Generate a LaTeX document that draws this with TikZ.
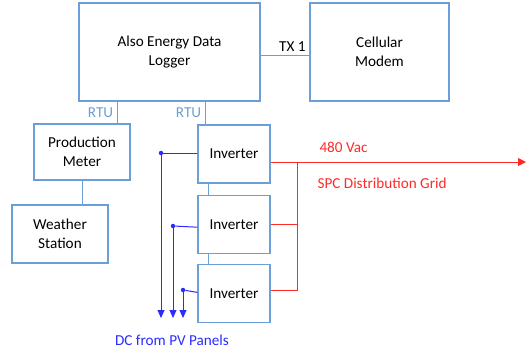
\documentclass[tikz,border=0pt]{standalone}
\usepackage{fontspec}
\setmainfont{Carlito}
\usetikzlibrary{positioning, arrows.meta}
\definecolor{boxblue}{HTML}{6A9FD8}
\definecolor{dcblue}{HTML}{2B2BFF}
\definecolor{acred}{HTML}{FF2A2A}

\begin{document}
\begin{tikzpicture}[x=1pt, y=-1pt,
    every node/.style={font=\fontsize{15.2}{19}\selectfont},
    box/.style={rectangle, draw=boxblue, line width=1.2pt, align=center, inner sep=0pt},
    invbox/.style={box, minimum width=72pt, minimum height=58pt},
    link/.style={draw=boxblue, line width=1pt},
    ac/.style={draw=acred, line width=1pt},
    dc/.style={draw=dcblue, line width=1pt},
    dcarrow/.style={dc, -{Triangle[length=8pt, width=7pt]}},
    dot/.style={circle, fill=dcblue, inner sep=0pt, minimum size=4.5pt}]

  \useasboundingbox (0,0) rectangle (530,348);

  \node[box, minimum width=181pt, minimum height=98pt] (logger) at (169.5,52) {Also Energy Data\\Logger};
  \node[box, minimum width=139pt, minimum height=98pt] (modem) at (379.5,52) {Cellular\\Modem};
  \node[box, minimum width=96pt, minimum height=56pt] (meter) at (82,152) {Production\\Meter};
  \node[box, minimum width=96pt, minimum height=58pt] (weather) at (60,234) {Weather\\Station};
  \node[invbox] (inv1) at (234,154) {Inverter};
  \node[invbox, below=11pt of inv1] (inv2) {Inverter};
  \node[invbox, below=10pt of inv2] (inv3) {Inverter};

  \draw[link] ([yshift=-3pt]logger.east) -- ([yshift=-3pt]logger.east -| modem.west)
    node[pos=0.65, above, text=black] {TX 1};
  \draw[link] ([xshift=35pt]meter.north) -- ([xshift=35pt]meter.north |- logger.south)
    node[midway, left, text=boxblue] {RTU};
  \draw[link] ([xshift=-29pt]inv1.north) -- ([xshift=-29pt]inv1.north |- logger.south)
    node[midway, left, text=boxblue] {RTU};
  \draw[link] (meter.south) -- (meter.south |- weather.north);
  \draw[link] ([xshift=-26pt]inv1.south) -- ([xshift=-26pt]inv2.north);
  \draw[link] ([xshift=-26pt]inv2.south) -- ([xshift=-26pt]inv3.north);

  % AC side
  \coordinate (bus) at (297,162);
  \coordinate (grid) at (526,162);
  \draw[ac, -{Triangle[length=8pt, width=8pt]}] ([yshift=-8pt]inv1.east) -- (grid);
  \draw[ac] (inv2.east) -- (inv2.east -| bus);
  \draw[ac] ([yshift=3pt]inv3.east) -- ([yshift=3pt]inv3.east -| bus) -- (bus);
  \node[text=acred, anchor=west] (vac) at (316,147) {480 Vac};
  \node[text=acred, anchor=west] (spc) at (314,183) {SPC Distribution Grid};

  % DC side
  \node[text=dcblue] (pv) at (172,340) {DC from PV Panels};
  \coordinate (pvend) at (172,318);
  \node[dot] (j1) at (161,153) {};
  \node[dot] (j2) at (173,226) {};
  \node[dot] (j3) at (183,290) {};
  \draw[dc] ([yshift=1pt]inv1.west) -- (j1);
  \draw[dc] ([yshift=-3pt]inv2.west) -- (j2);
  \draw[dc] ([yshift=1pt]inv3.west) -- (j3);
  \draw[dcarrow] (j1) -- (j1 |- pvend);
  \draw[dcarrow] (j2) -- (j2 |- pvend);
  \draw[dcarrow] (j3) -- (j3 |- pvend);
\end{tikzpicture}
\end{document}
